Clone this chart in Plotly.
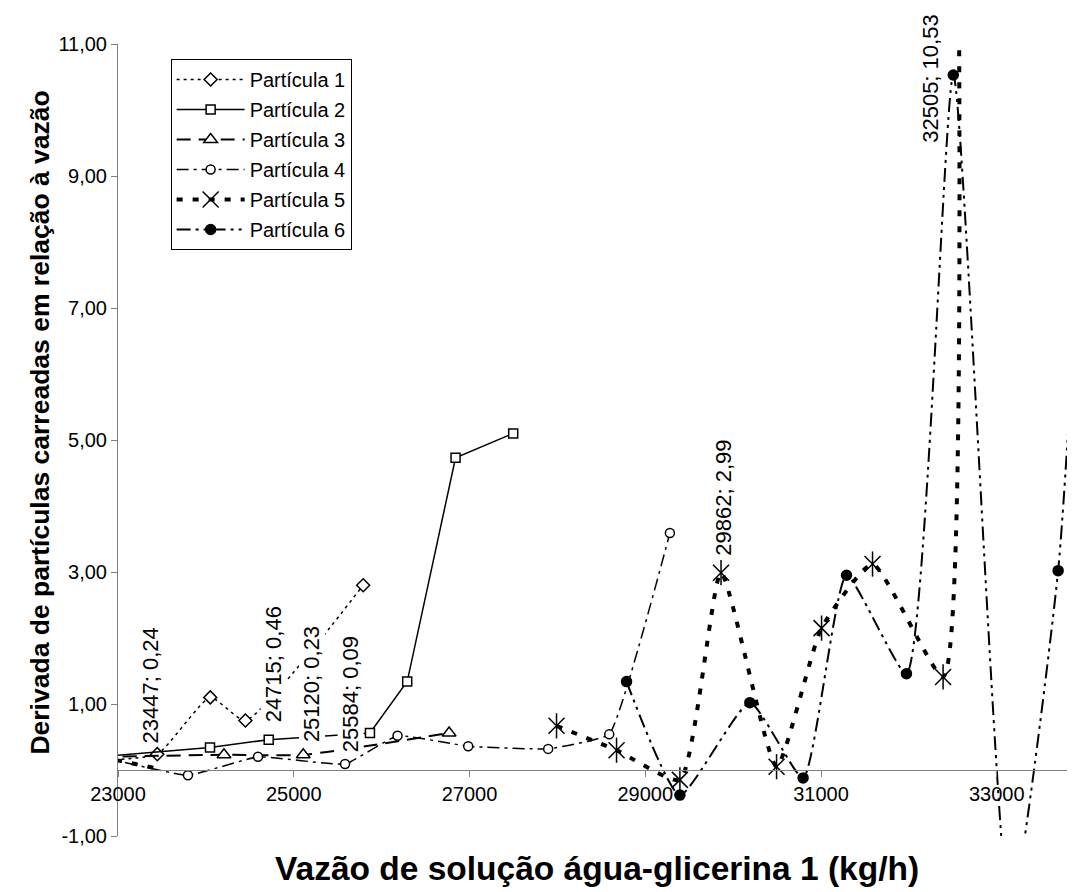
import plotly.graph_objects as go

# flow rate (kg/h) and derivative values per particle
p1_x = [22800, 23447, 24050, 24450, 25790]
p1_y = [0.15, 0.24, 1.10, 0.75, 2.80]

p2_x = [22800, 24047, 24715, 25867, 26291, 26841, 27497]
p2_y = [0.20, 0.34, 0.46, 0.56, 1.34, 4.73, 5.10]

p3_x = [22800, 24206, 25108, 26768]
p3_y = [0.20, 0.23, 0.23, 0.56]

p4_x = [22800, 23796, 24593, 25584, 26181, 26985, 27895, 28590, 29280]
p4_y = [0.20, -0.08, 0.20, 0.09, 0.52, 0.36, 0.32, 0.54, 3.59]

p5_lead_x = [22800, 23450]
p5_lead_y = [0.20, 0.02]
p5_x = [27990, 28673, 29394, 29862, 30494, 31006, 31586, 32389, 32560]
p5_y = [0.67, 0.30, -0.15, 2.99, 0.05, 2.15, 3.12, 1.41, 13.5]

p6_x = [28787, 29394, 30190, 30796, 31290, 31972, 32505, 33150, 33698, 34100]
p6_y = [1.34, -0.38, 1.02, -0.12, 2.95, 1.46, 10.53, -2.2, 3.02, 12.0]

# point labels: x, y, text
lbl_x = [23447, 24715, 25120, 25584, 29862, 32505]
lbl_y = [0.24, 0.46, 0.23, 0.09, 2.99, 10.53]
lbl_text = ["23447; 0,24", "24715; 0,46", "25120; 0,23", "25584; 0,09",
            "29862; 2,99", "32505; 10,53"]

y_ticks = [-1, 1, 3, 5, 7, 9, 11]
y_ticktext = ["-1,00", "1,00", "3,00", "5,00", "7,00", "9,00", "11,00"]

FONT = "Arial, Liberation Sans, sans-serif"
BLACK = "black"

fig = go.Figure()

def add(name, x, y, dash, width, symbol, size, filled=False, shape="spline", smooth=0.5):
    fig.add_trace(go.Scatter(
        x=x, y=y, name=name, legendgroup=name, mode="lines+markers",
        line=dict(color=BLACK, width=width, dash=dash, shape=shape, smoothing=smooth),
        marker=dict(symbol=symbol, size=size, color=BLACK if filled else "white",
                    line=dict(color=BLACK, width=1.5)),
    ))

add("Partícula 1", p1_x, p1_y, "3px,4px", 1.5, "diamond", 10)
add("Partícula 2", p2_x, p2_y, "solid", 1.5, "square", 9, shape="linear")
add("Partícula 3", p3_x, p3_y, "14px,8px", 2, "triangle-up", 12)
add("Partícula 4", p4_x, p4_y, "12px,5px,3px,5px", 1.5, "circle", 9, smooth=0.3)

# short leading piece of particle 5 near the axis (no markers)
fig.add_trace(go.Scatter(x=p5_lead_x, y=p5_lead_y, mode="lines", showlegend=False,
                         legendgroup="Partícula 5",
                         line=dict(color=BLACK, width=4, dash="6px,10px")))
fig.add_trace(go.Scatter(
    x=p5_x, y=p5_y, name="Partícula 5", legendgroup="Partícula 5", mode="lines+markers",
    line=dict(color=BLACK, width=4, dash="6px,10px", shape="spline", smoothing=0.5),
    marker=dict(symbol="x-thin-open", size=16, color=BLACK,
                line=dict(color=BLACK, width=1.5)),
))
# vertical stroke of the star marker
fig.add_trace(go.Scatter(
    x=p5_x, y=p5_y, mode="markers", showlegend=False, legendgroup="Partícula 5",
    marker=dict(symbol="line-ns-open", size=18, color=BLACK,
                line=dict(color=BLACK, width=1.5)),
))

add("Partícula 6", p6_x, p6_y, "14px,5px,3px,5px,3px,5px", 2, "circle", 10, filled=True)

shifts = [(-7, 10), (5, 16), (8, 12), (5, 11), (3, 16)]
for (xv, yv, t), (dx, dy) in zip(zip(lbl_x[:5], lbl_y[:5], lbl_text[:5]), shifts):
    fig.add_annotation(x=xv, y=yv, text=t, showarrow=False, textangle=-90,
                       xanchor="center", yanchor="bottom", xshift=dx, yshift=dy,
                       bgcolor="white", borderpad=0,
                       font=dict(family=FONT, size=22, color=BLACK))
# top label sits to the left of its point
fig.add_annotation(x=lbl_x[5], y=lbl_y[5], text=lbl_text[5], showarrow=False,
                   textangle=-90, xanchor="right", yanchor="middle", xshift=-10, yshift=-4,
                   bgcolor="white", borderpad=0,
                   font=dict(family=FONT, size=22, color=BLACK))

fig.add_annotation(x=0.5, y=-0.041, xref="paper", yref="paper", showarrow=False,
                   text="<b>Vazão de solução água-glicerina 1 (kg/h)</b>",
                   xanchor="center", yanchor="middle",
                   font=dict(family=FONT, size=33.5, color=BLACK))
fig.add_annotation(x=-0.0815, y=0.522, xref="paper", yref="paper", showarrow=False,
                   text="<b>Derivada de partículas carreadas em relação à vazão</b>",
                   textangle=-90, xanchor="center", yanchor="middle",
                   font=dict(family=FONT, size=26.5, color=BLACK))

# the page body adds an 8px offset, margins compensate for it
fig.update_layout(
    width=1075, height=892,
    margin=dict(l=110, r=8, t=36, b=64),
    paper_bgcolor="white", plot_bgcolor="white",
    font=dict(family=FONT, size=20, color=BLACK),
    legend=dict(x=0.055, y=0.981, xanchor="left", yanchor="top",
                bgcolor="white", bordercolor=BLACK, borderwidth=1,
                font=dict(size=20), itemwidth=68, tracegroupgap=1),
    xaxis=dict(range=[23000, 33890], tickmode="linear", tick0=23000, dtick=2000,
               tickformat="d", showgrid=False, zeroline=False, automargin=False,
               showline=True, linecolor="#808080", linewidth=1,
               ticks="outside", ticklen=6, tickcolor="#808080",
               anchor="free", position=1 / 12),
    yaxis=dict(range=[-1, 11], tickmode="array", tickvals=y_ticks, ticktext=y_ticktext,
               showgrid=False, zeroline=False, automargin=False,
               showline=True, linecolor="#808080", linewidth=1,
               ticks="outside", ticklen=6, tickcolor="#808080"),
)

fig.write_html("out.html")
